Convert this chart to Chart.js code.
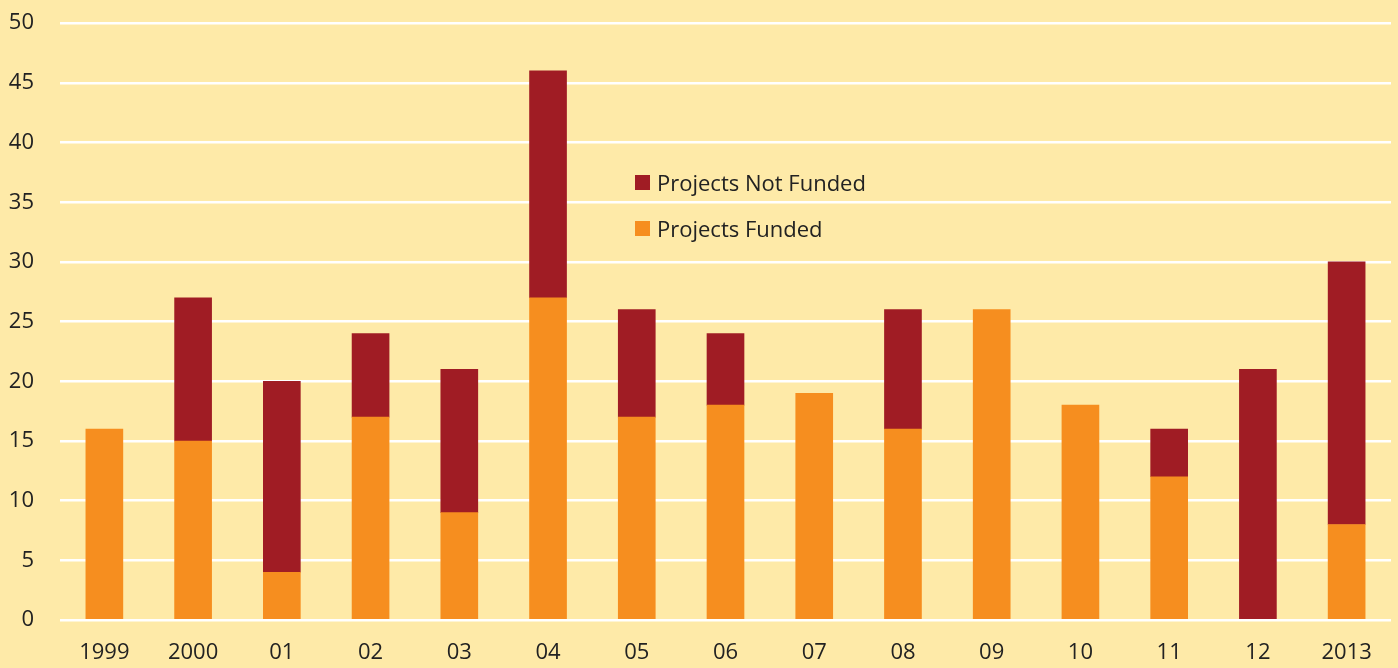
<!DOCTYPE html>
<html lang="en">
<head>
<meta charset="UTF-8">
<title>Projects Funded / Not Funded</title>
<script src="https://cdn.jsdelivr.net/npm/chart.js"></script>
<style>
    html, body { margin: 0; padding: 0; background: #feeaa8; overflow: hidden; }
    .janela { position: relative; width: 1398px; height: 668px; overflow: hidden; }
    /* canvas deslocado para cima: o Chart.js reserva espaço para o rótulo "50" */
    #grafico { position: absolute; left: 0; top: -16px; }
    .legenda { position: absolute; left: 635px; top: 166px; font-family: "Open Sans", "Noto Sans", sans-serif; font-size: 22px; color: #222; }
    .legenda div { display: flex; align-items: center; height: 32px; margin-bottom: 14px; }
    .legenda span.box { display: inline-block; width: 15px; height: 15px; margin-right: 7px; }
</style>
</head>
<body>
<div class="janela">
    <canvas id="grafico" width="1398" height="684"></canvas>
    <div class="legenda">
        <div><span class="box" style="background:#a01c24"></span>Projects Not Funded</div>
        <div><span class="box" style="background:#f68e1f"></span>Projects Funded</div>
    </div>
</div>
<script>
    // dados
    const anos = ['1999', '2000', '01', '02', '03', '04', '05', '06', '07', '08', '09', '10', '11', '12', '2013'];
    const financiados = [16, 15, 4, 17, 9, 27, 17, 18, 19, 16, 26, 18, 12, 0, 8];
    const naoFinanciados = [0, 12, 16, 7, 12, 19, 9, 6, 0, 10, 0, 0, 4, 21, 22];
    const ticksY = [0, 5, 10, 15, 20, 25, 30, 35, 40, 45, 50];

    const fonte = { family: '"Open Sans", "Noto Sans", sans-serif', size: 22 };

    // zero vira null para não desenhar uma barra de altura zero (linha fina)
    const semZero = arr => arr.map(v => (v === 0 ? null : v));

    new Chart(document.getElementById('grafico'), {
        type: 'bar',
        data: {
            labels: anos,
            datasets: [
                { label: 'Projects Funded', data: semZero(financiados), backgroundColor: '#f68e1f', barThickness: 37 },
                { label: 'Projects Not Funded', data: semZero(naoFinanciados), backgroundColor: '#a01c24', barThickness: 37 }
            ]
        },
        options: {
            responsive: false,
            animation: false,
            layout: { padding: { top: 5, right: 7, left: 0, bottom: 0 } },
            plugins: { legend: { display: false }, tooltip: { enabled: false } },
            scales: {
                x: {
                    stacked: true,
                    grid: { display: false },
                    border: { display: false },
                    ticks: { color: '#222', font: fonte, padding: 12, maxRotation: 0, autoSkip: false },
                    afterFit: function (s) { s.height = 48; }
                },
                y: {
                    stacked: true,
                    min: 0,
                    max: 50,
                    afterBuildTicks: function (s) { s.ticks = ticksY.map(v => ({ value: v })); },
                    grid: { color: '#ffffff', lineWidth: 2.5, drawTicks: false },
                    border: { display: false },
                    ticks: { color: '#222', font: fonte, padding: 26 },
                    afterFit: function (s) { s.width = 60; }
                }
            }
        }
    });
</script>
</body>
</html>
